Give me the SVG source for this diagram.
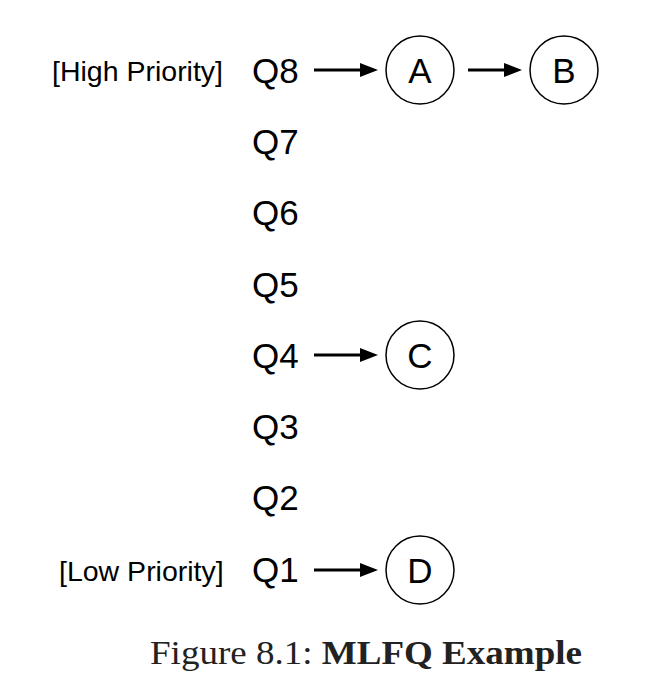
<svg xmlns="http://www.w3.org/2000/svg" width="660" height="694" viewBox="0 0 660 694">
<defs>
<style>
.q{font-family:"Liberation Sans",Arial,sans-serif;font-size:35px;fill:#000}
.p{font-family:"Liberation Sans",Arial,sans-serif;font-size:28.5px;fill:#000}
.n{fill:#fff;stroke:#000;stroke-width:1.5}
.nt{font-family:"Liberation Sans",Arial,sans-serif;font-size:35px;fill:#000;text-anchor:middle}
.e{stroke:#000;stroke-width:3;fill:none}
.cap{font-family:"Liberation Serif","Times New Roman",serif;font-size:34px;fill:#222}
</style>
<marker id="ah" viewBox="0 0 18 14" refX="10" refY="7" markerWidth="18" markerHeight="14" markerUnits="userSpaceOnUse" orient="auto">
<path d="M0,0 L18,7 L0,14 z" fill="#000"/>
</marker>
</defs>
<rect width="660" height="694" fill="#fff"/>
<g id="labels">
<text class="p" x="52" y="81">[High Priority]</text>
<text class="p" x="59" y="581">[Low Priority]</text>
</g>
<g id="queues">
<text id="Q8" class="q" x="252" y="83">Q8</text>
<text id="Q7" class="q" x="252" y="154">Q7</text>
<text id="Q6" class="q" x="252" y="225">Q6</text>
<text id="Q5" class="q" x="252" y="297">Q5</text>
<text id="Q4" class="q" x="252" y="368">Q4</text>
<text id="Q3" class="q" x="252" y="439">Q3</text>
<text id="Q2" class="q" x="252" y="510">Q2</text>
<text id="Q1" class="q" x="252" y="582">Q1</text>
</g>
<g id="connectors">
<line class="e" x1="314" y1="70" x2="370" y2="70" marker-end="url(#ah)"/>
<line class="e" x1="468" y1="70" x2="514" y2="70" marker-end="url(#ah)"/>
<line class="e" x1="314" y1="355" x2="370" y2="355" marker-end="url(#ah)"/>
<line class="e" x1="314" y1="570" x2="370" y2="570" marker-end="url(#ah)"/>
</g>
<g id="A"><circle class="n" cx="420" cy="70" r="34"/><text class="nt" x="420" y="83">A</text></g>
<g id="B"><circle class="n" cx="564" cy="70" r="34"/><text class="nt" x="564" y="83">B</text></g>
<g id="C"><circle class="n" cx="420" cy="355" r="34"/><text class="nt" x="420" y="368">C</text></g>
<g id="D"><circle class="n" cx="420" cy="570" r="34"/><text class="nt" x="420" y="583">D</text></g>
<g id="caption">
<text class="cap" x="150" y="664" textLength="432" lengthAdjust="spacingAndGlyphs">Figure 8.1: <tspan font-weight="bold">MLFQ Example</tspan></text>
</g>
</svg>
